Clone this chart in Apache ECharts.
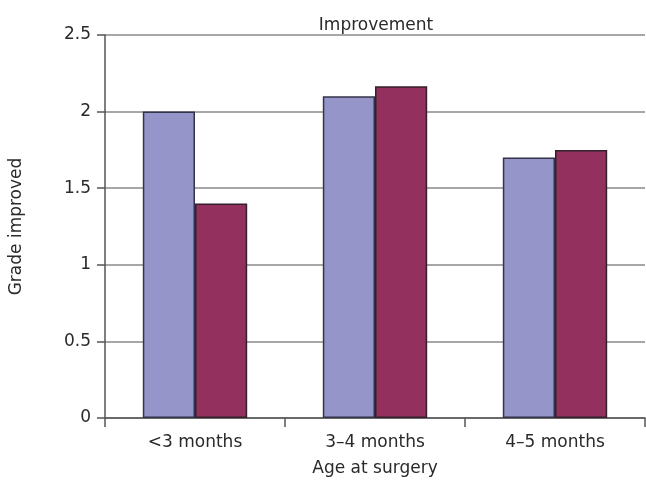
<!DOCTYPE html>
<html>
<head>
<meta charset="utf-8">
<script src="https://cdn.jsdelivr.net/npm/echarts@6/dist/echarts.min.js"></script>
<style>
  html, body { margin: 0; padding: 0; background: #ffffff; }
  #chart { width: 646px; height: 482px; }
</style>
</head>
<body>
<div id="chart"></div>
<script>
// Mean grade improvement by age at surgery
const categories = ['<3 months', '3\u20134 months', '4\u20135 months'];
const seriesA = [2.0, 2.1, 1.7];
const seriesB = [1.4, 2.165, 1.75];
const yTicks = { min: 0, max: 2.5, interval: 0.5 };

const FONT = 'DejaVu Sans';
const TEXT = '#2a2a2a';
const chart = echarts.init(document.getElementById('chart'), null, { renderer: 'canvas' });

chart.setOption({
  animation: false,
  backgroundColor: '#ffffff',
  textStyle: { fontFamily: FONT },
  title: {
    text: 'Improvement',
    left: 371, top: 12, textAlign: 'center',
    textStyle: { fontFamily: FONT, fontSize: 17, fontWeight: 'normal', color: TEXT }
  },
  grid: { left: 105, right: 1, top: 35, bottom: 59, containLabel: false },
  xAxis: {
    type: 'category',
    data: categories,
    name: 'Age at surgery',
    nameLocation: 'middle',
    nameGap: 42,
    nameTextStyle: { fontFamily: FONT, fontSize: 17, color: TEXT },
    axisLine: { lineStyle: { color: '#555', width: 1.5 } },
    axisTick: { show: true, length: 9, lineStyle: { color: '#555', width: 1.5 } },
    axisLabel: { fontFamily: FONT, fontSize: 17, color: TEXT, margin: 16 },
    splitLine: { show: false }
  },
  yAxis: {
    type: 'value',
    min: yTicks.min, max: yTicks.max, interval: yTicks.interval,
    name: 'Grade improved',
    nameLocation: 'middle',
    nameGap: 80,
    nameRotate: 90,
    nameTextStyle: { fontFamily: FONT, fontSize: 17, color: TEXT },
    axisLine: { show: true, lineStyle: { color: '#555', width: 1.5 } },
    axisTick: { show: true, length: 8, lineStyle: { color: '#555', width: 1.5 } },
    axisLabel: { fontFamily: FONT, fontSize: 17, color: TEXT, margin: 14 },
    splitLine: { show: true, lineStyle: { color: '#8a8a8a', width: 1.5 } }
  },
  series: [
    {
      type: 'bar', data: seriesA, barGap: '0%', barCategoryGap: '42%',
      itemStyle: { color: '#9595c9', borderColor: '#33334a', borderWidth: 1.5 }
    },
    {
      type: 'bar', data: seriesB, barGap: '0%', barCategoryGap: '42%',
      itemStyle: { color: '#93305e', borderColor: '#33202a', borderWidth: 1.5 }
    }
  ]
});
</script>
</body>
</html>
